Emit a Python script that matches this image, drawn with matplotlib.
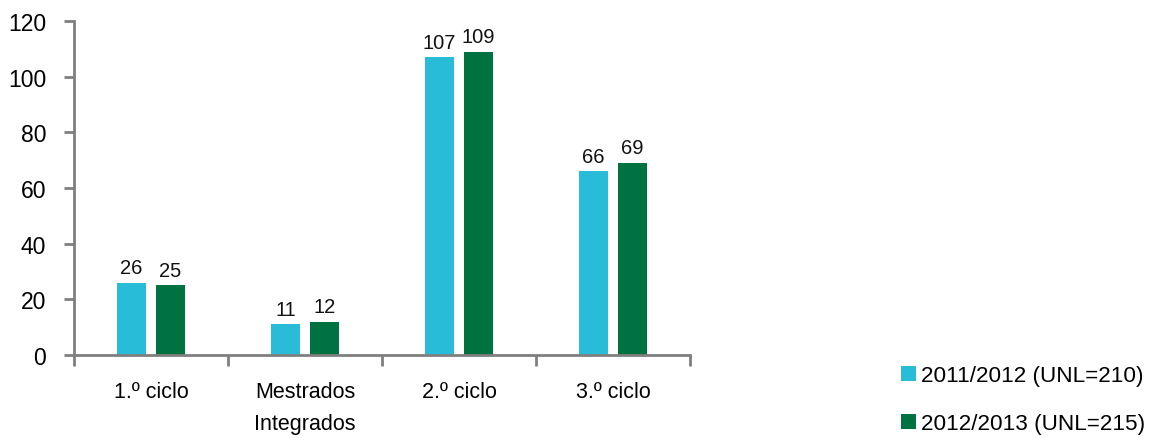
import matplotlib
matplotlib.use("Agg")
import matplotlib.pyplot as plt
from matplotlib.patches import Patch
import numpy as np

categories = ["1.º ciclo", "Mestrados\nIntegrados", "2.º ciclo", "3.º ciclo"]
series_2011 = [26, 11, 107, 66]
series_2012 = [25, 12, 109, 69]
series_labels = ["2011/2012 (UNL=210)", "2012/2013 (UNL=215)"]
yticks = [0, 20, 40, 60, 80, 100, 120]

c1 = "#29BCD9"
c2 = "#007140"
axis_color = "#7f7f7f"

plt.rcParams["font.family"] = ["Liberation Sans", "DejaVu Sans"]

fig = plt.figure(figsize=(11.54, 4.39), dpi=100)
ax = fig.add_axes([74 / 1154, 1 - 356 / 439, (690 - 74) / 1154, (356 - 22) / 439])

x = np.arange(len(categories))
w = 0.19
off = 0.127
b1 = ax.bar(x - off, series_2011, width=w, color=c1)
b2 = ax.bar(x + off, series_2012, width=w, color=c2)

for bars, vals in ((b1, series_2011), (b2, series_2012)):
    for rect, v in zip(bars, vals):
        ax.text(rect.get_x() + rect.get_width() / 2, v + 2.0, str(v),
                ha="center", va="bottom", fontsize=14.5, color="#111111")

ax.set_xlim(-0.5, len(categories) - 0.5)
ax.set_ylim(0, 120)
ax.set_yticks(yticks)
ax.set_yticklabels([str(t) for t in yticks], fontsize=16.5)

ax.set_xticks(x)
ax.set_xticklabels(categories, fontsize=15.5, linespacing=1.65, va="top")
ax.tick_params(axis="x", which="major", length=0, pad=19)
ax.set_xticks(np.arange(len(categories) + 1) - 0.5, minor=True)
ax.tick_params(axis="x", which="minor", length=8, width=2, color=axis_color, direction="out")
ax.tick_params(axis="y", length=7, width=2, color=axis_color, direction="out", pad=13)

for s in ("top", "right"):
    ax.spines[s].set_visible(False)
for s in ("left", "bottom"):
    ax.spines[s].set_color(axis_color)
    ax.spines[s].set_linewidth(2)

handles = [Patch(facecolor=c1), Patch(facecolor=c2)]
fig.legend(handles, series_labels, loc="upper left",
           bbox_to_anchor=(901 / 1154, 1 - 366 / 439), frameon=False,
           fontsize=16.2, handlelength=0.66, handleheight=0.66,
           handletextpad=0.25, labelspacing=1.22, borderpad=0, borderaxespad=0)

fig.savefig("out.png", dpi=100)
